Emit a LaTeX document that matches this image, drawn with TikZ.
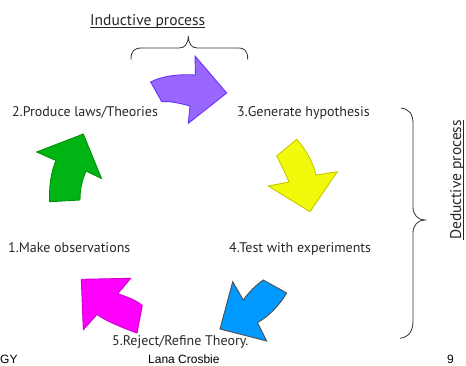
\documentclass[tikz,border=0pt]{standalone}
\usepackage{fontspec}
\setmainfont{PT Sans}
\newfontfamily\footfont{Liberation Sans}
\usetikzlibrary{calc}
\definecolor{txt}{RGB}{40,40,40}
\definecolor{purpf}{RGB}{153,102,255}
\definecolor{purpd}{RGB}{102,51,255}
\definecolor{greenf}{RGB}{0,180,20}
\definecolor{greend}{RGB}{0,145,0}
\definecolor{yelf}{RGB}{240,250,10}
\definecolor{yeld}{RGB}{200,200,0}
\definecolor{bluef}{RGB}{0,153,255}
\definecolor{blued}{RGB}{80,80,80}
\definecolor{magf}{RGB}{255,0,255}
\definecolor{magd}{RGB}{205,0,205}
\definecolor{bracec}{RGB}{50,50,50}
\tikzset{
  lbl/.style={inner sep=0pt, text=txt, font=\fontsize{14}{16}\selectfont, anchor=base west},
  proc/.style={inner sep=0pt, text=txt, font=\fontsize{15.5}{17}\selectfont},
  foot/.style={inner sep=0pt, text=black, font=\footfont\fontsize{12}{14}\selectfont, anchor=base west},
  arrowshape/.style={line width=0.9pt, line join=miter},
  bracepath/.style={draw=bracec, line width=0.8pt},
  ul/.style={draw=txt, line width=0.6pt}
}
\begin{document}
\begin{tikzpicture}[x=1pt,y=-1pt]
\useasboundingbox (0,0) rectangle (466,365);

% labels
\node[proc, anchor=base west] (ind) at (90,25) {Inductive process};
\draw[ul] ([yshift=-1.8pt]ind.base west) -- ([yshift=-1.8pt]ind.base east);
\node[lbl] (s2) at (12,116.5) {2.Produce laws/Theories};
\node[lbl] (s3) at (237,116.5) {3.Generate hypothesis};
\node[lbl] (s1) at (8,252) {1.Make observations};
\node[lbl] (s4) at (229,252) {4.Test with experiments};
\node[lbl] (s5) at (112,345) {5.Reject/Refine Theory.};
\node[proc, anchor=base, rotate=90] (ded) at (461,180) {Deductive process};
\draw[ul] ([xshift=1.8pt]ded.base west) -- ([xshift=1.8pt]ded.base east);

% footer
\node[foot] (fgy) at (0,363.3) {GY};
\node[foot] (fname) at (148,363.3) {Lana Crosbie};
\node[foot] (fnum) at (447,363.3) {9};

% top brace
\draw[bracepath] (131,59.5) .. controls (131,51) and (134,48) .. (142,48) -- (179,48)
  .. controls (185,48) and (188,44) .. (188.3,36)
  .. controls (188.6,44) and (191.5,48) .. (197.5,48) -- (238,48)
  .. controls (245,48) and (247.7,51) .. (247.7,59.5);

% right brace
\draw[bracepath] (401,108) .. controls (409,109) and (413,114) .. (413,123) -- (413,207)
  .. controls (413,215) and (418,220) .. (425,220)
  .. controls (418,220) and (413,225) .. (413,233) -- (413,321)
  .. controls (413,331) and (409,337) .. (400,338.3);

% purple arrow (2 -> 3)
\filldraw[arrowshape, fill=purpf, draw=purpd] (150.7,82)
  .. controls (162,76) and (178,74) .. (195.5,75)
  -- (195,56) -- (226.7,93) -- (188.3,123.3) -- (190,106)
  .. controls (179,103) and (170,101) .. (161.7,101.7) -- cycle;

% yellow arrow (3 -> 4)
\filldraw[arrowshape, fill=yelf, draw=yeld] (276.7,156) -- (296.7,139.3)
  .. controls (306,150) and (313,162) .. (316,175)
  -- (337.3,171.7) -- (310,211.7) -- (268.3,186) -- (289,182)
  .. controls (285,172) and (280,163) .. (276.7,156) -- cycle;

% blue arrow (4 -> 5)
\filldraw[arrowshape, fill=bluef, draw=blued] (263.3,280) -- (286.7,293)
  .. controls (279,306) and (268,317) .. (257.5,322.5)
  -- (266.7,341) -- (220,329) -- (232.7,281.7) -- (243.3,300)
  .. controls (248,293) and (256,285) .. (263.3,280) -- cycle;

% magenta arrow (5 -> 1)
\filldraw[arrowshape, fill=magf, draw=magd] (81.3,279.3) -- (130.7,278.3) -- (117.8,293.7)
  .. controls (127,297) and (136,300) .. (142.3,305.5)
  -- (137,333)
  .. controls (123,328) and (106,321) .. (97,314.5)
  -- (83.3,329.7) -- cycle;

% green arrow (1 -> 2)
\filldraw[arrowshape, fill=greenf, draw=greend] (49.7,201.7)
  .. controls (49,186) and (51,172) .. (56,160.5)
  -- (36.7,152) -- (83.3,134) -- (101.5,178.5) -- (86,171)
  .. controls (81.5,182) and (80,190) .. (80,200) -- cycle;
\end{tikzpicture}
\end{document}
